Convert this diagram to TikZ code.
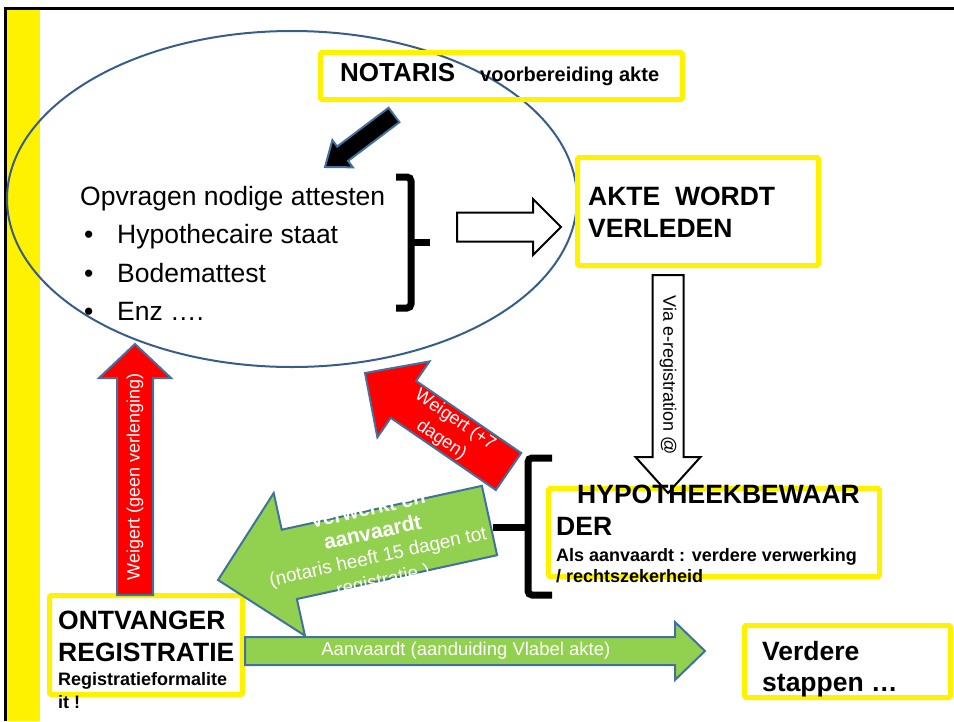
\documentclass[tikz,border=0pt]{standalone}
\usepackage{fontspec}
\setmainfont{Liberation Sans}
\usetikzlibrary{calc}
\definecolor{rim}{RGB}{65,113,156}
\definecolor{leaf}{RGB}{146,208,80}
\definecolor{oval}{RGB}{56,93,138}
% block arrow from #2 (tail) to #3 (tip): half shaft #4, half head #5, head length #6
\newcommand{\blockarr}[6]{%
 \path[#1] let \p1=(#2),\p2=(#3),\n1={atan2(\y2-\y1,\x2-\x1)},\n2={veclen(\x2-\x1,\y2-\y1)} in
  [shift={(\p1)},rotate=\n1]
  (0pt,#4) -- ({\n2-#6},#4) -- ({\n2-#6},#5) -- (\n2,0pt) -- ({\n2-#6},-#5) -- ({\n2-#6},-#4) -- (0pt,-#4) -- cycle;}
\tikzset{ybox/.style={draw=yellow,line width=5pt,rounded corners=1.5pt,inner sep=0pt},
 refuse/.style={fill=red,draw=rim,line width=2pt},
 accept/.style={fill=leaf,draw=rim,line width=2pt},
 hollow/.style={fill=white,draw=black,line width=2pt},
 dark/.style={fill=black,draw=rim,line width=2pt},
 brace/.style={line width=7pt,rounded corners=4pt},
 hdr/.style={font=\fontsize{26.5}{30}\selectfont\bfseries,anchor=base west,inner sep=0pt},
 sub/.style={font=\fontsize{18}{21}\selectfont\bfseries,anchor=base west,inner sep=0pt},
 lst/.style={font=\fontsize{26.5}{30}\selectfont,anchor=base west,inner sep=0pt},
 lbl/.style={font=\fontsize{18}{24}\selectfont,text=white,align=center,sloped,inner sep=0pt}}
\begin{document}
\begin{tikzpicture}[x=1pt,y=-1pt]
\useasboundingbox (0,0) rectangle (954,721);
% frame and side bar
\fill[yellow] (7,9) rectangle (40,721);
\draw[line width=3pt] (5,721) -- (5,8) -- (954,8);
\draw[oval,line width=2pt] (292,199) ellipse [x radius=285,y radius=168];
% boxes
\node[ybox,minimum width=362pt,minimum height=47pt] (notaris) at (501.5,76) {};
\node[ybox,minimum width=241pt,minimum height=108pt] (akte) at (698,211.5) {};
\node[ybox,minimum width=331pt,minimum height=88pt] (hypo) at (714,532.5) {};
\node[ybox,minimum width=193pt,minimum height=99pt] (ontv) at (146,645) {};
\node[ybox,minimum width=206pt,minimum height=72pt] (verder) at (847.5,661.5) {};
% arrow ends
\coordinate (blkT) at (394,115); \coordinate (blkH) at (325,167);
\coordinate (wT) at (457,227); \coordinate (wH) at (561,227);
\coordinate (viaT) at (668,275); \coordinate (viaH) at (668,493);
\coordinate (ngT) at (135,595); \coordinate (ngH) at (135,344);
\coordinate (n7T) at (508.5,471.5); \coordinate (n7H) at (365,373);
\coordinate (okT) at (489.5,520.5); \coordinate (okH) at (218,580);
\coordinate (vlT) at (245,651); \coordinate (vlH) at (705,651);
\blockarr{dark}{blkT}{blkH}{9}{17}{22}
\blockarr{hollow}{wT}{wH}{14.5}{28}{28}
\blockarr{hollow}{viaT}{viaH}{15.5}{32.5}{36}
\blockarr{refuse}{ngT}{ngH}{18}{36}{34}
\blockarr{refuse}{n7T}{n7H}{22.4}{46}{46.6}
\blockarr{accept}{okT}{okH}{35.5}{73}{73}
\blockarr{accept}{vlT}{vlH}{14}{29}{30}
% braces
\draw[brace] (396,177) -- (411,177) -- (411,308) -- (396,308);
\draw[brace] (411,242) -- (430,242);
\draw[brace] (552,458) -- (528,458) -- (528,595) -- (552,595);
\draw[brace] (528,527) -- (493,527);
% arrow labels
\path (viaT) -- node[lbl,text=black,pos=.46] (vialbl) {Via e-registration @} (viaH);
\path (ngT) -- node[lbl,pos=.47] (nglbl) {Weigert (geen verlenging)} (ngH);
\path (n7T) -- node[lbl,pos=.42] (n7lbl) {Weigert (+7\\dagen)} (n7H);
\path (okT) -- node[lbl,pos=.42,font=\fontsize{19}{24}\selectfont] (oklbl)
 {{\fontsize{21}{24}\selectfont\bfseries Verwerkt en}\\{\fontsize{21}{24}\selectfont\bfseries aanvaardt}\\(notaris heeft 15 dagen tot\\registratie )} (okH);
\path (vlT) -- node[lbl,pos=.48,font=\fontsize{18.5}{22}\selectfont] (vllbl) {Aanvaardt (aanduiding Vlabel akte)} (vlH);
% texts
\node[hdr,font=\fontsize{26}{30}\selectfont\bfseries] (not1) at (340,81) {NOTARIS};
\node[sub,font=\fontsize{20}{22}\selectfont\bfseries] (not2) at (480,81) {voorbereiding akte};
\node[lst] (opv) at (80,205) {Opvragen nodige attesten};
\foreach \yy/\txt [count=\k] in {243/Hypothecaire staat,282/Bodemattest,320/Enz ….}{
 \node[lst] (dot\k) at (84,\yy) {•};
 \node[lst] (att\k) at (117,\yy) {\txt};}
\node[hdr] (akte1) at (588,205) {AKTE\ \ WORDT};
\node[hdr] (akte2) at (588,237) {VERLEDEN};
\node[hdr] (hypo1) at (577,503) {HYPOTHEEKBEWAAR};
\node[hdr] (hypo2) at (556,535) {DER};
\node[sub] (hypo3) at (556,561) {Als aanvaardt : verdere verwerking};
\node[sub] (hypo4) at (556,582) {/ rechtszekerheid};
\node[hdr] (ontv1) at (58,629) {ONTVANGER};
\node[hdr] (ontv2) at (58,661) {REGISTRATIE};
\node[sub] (ontv3) at (58,685) {Registratieformalite};
\node[sub] (ontv4) at (58,708) {it !};
\node[hdr] (verd1) at (762,660) {Verdere};
\node[hdr] (verd2) at (762,691) {stappen …};
\end{tikzpicture}
\end{document}
